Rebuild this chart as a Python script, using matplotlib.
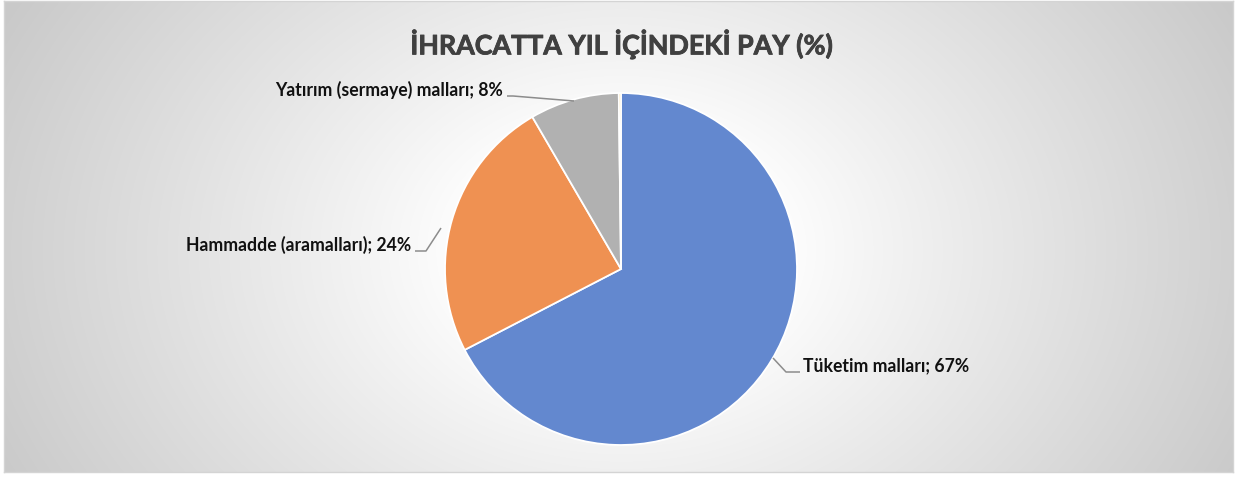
import numpy as np
import matplotlib
matplotlib.use("Agg")
import matplotlib.pyplot as plt

plt.rcParams['font.family'] = ['Lato', 'DejaVu Sans']

title = "İHRACATTA YIL İÇİNDEKİ PAY (%)"
categories = ["Tüketim malları", "Hammadde (aramalları)", "Yatırım (sermaye) malları", "Diğer"]
values = [67.4, 24.2, 8.2, 0.2]
label_pct = [67, 24, 8]
colors = ["#6388cf", "#ef9152", "#b1b1b1", "#fcd68a"]

W, H = 1237, 478
fig = plt.figure(figsize=(W / 100, H / 100), dpi=100)
fig.patch.set_facecolor("white")

# background radial gradient
bx0, by0, bx1, by1 = 4, 1, 1233, 472
bg = fig.add_axes([bx0 / W, 1 - by1 / H, (bx1 - bx0) / W, (by1 - by0) / H])
yy, xx = np.mgrid[by0:by1, bx0:bx1]
r = np.hypot((xx - 621) / 1.0, (yy - 250) / 0.75)
t = np.clip((r - 150) / 540, 0, 1) ** 0.95
g = 1.0 - t * (1.0 - 0.79)
img = np.dstack([g, g, g])
bg.imshow(img, aspect="auto", extent=[0, 1, 0, 1], interpolation="bilinear")
bg.set_xlim(0, 1); bg.set_ylim(0, 1)
bg.set_xticks([]); bg.set_yticks([])
for s in bg.spines.values():
    s.set_color("#d4d4d4"); s.set_linewidth(1)

# pie axes
cx, cy, R = 621, 269, 176
ax = fig.add_axes([(cx - R) / W, (H - cy - R) / H, 2 * R / W, 2 * R / H])
ax.pie(values, colors=colors, startangle=90, counterclock=False, radius=1,
       wedgeprops=dict(edgecolor="white", linewidth=1.3))
ax.set_xlim(-1, 1); ax.set_ylim(-1, 1)
ax.axis("off")

def d(px, py):
    return ((px - cx) / R, (cy - py) / R)

lc = "#8c8c8c"
legs = [
    [(800, 372), (786, 372), (773, 358)],
    [(415, 251), (426, 251), (441, 228)],
    [(507, 96), (513, 96), (574, 101)],
]
for pts in legs:
    xs, ys = zip(*[d(*p) for p in pts])
    ax.plot(xs, ys, color=lc, lw=1.1, clip_on=False, solid_capstyle="butt")

fs = 12.7
tx, ty = d(803, 366)
ax.text(tx, ty, f"{categories[0]}; {label_pct[0]}%", ha="left", va="center",
        fontsize=fs, fontweight="bold", color="#111111")
tx, ty = d(411, 245)
ax.text(tx, ty, f"{categories[1]}; {label_pct[1]}%", ha="right", va="center",
        fontsize=fs, fontweight="bold", color="#111111")
tx, ty = d(503, 90)
ax.text(tx, ty, f"{categories[2]}; {label_pct[2]}%", ha="right", va="center",
        fontsize=fs, fontweight="bold", color="#111111")

fig.text(621 / W, 1 - 44 / H, title, ha="center", va="center",
         fontsize=19.3, fontweight="bold", color="#404040",
         path_effects=[__import__("matplotlib.patheffects", fromlist=["x"]).withStroke(linewidth=0.6, foreground="#404040")])

fig.savefig("out.png", dpi=100)
